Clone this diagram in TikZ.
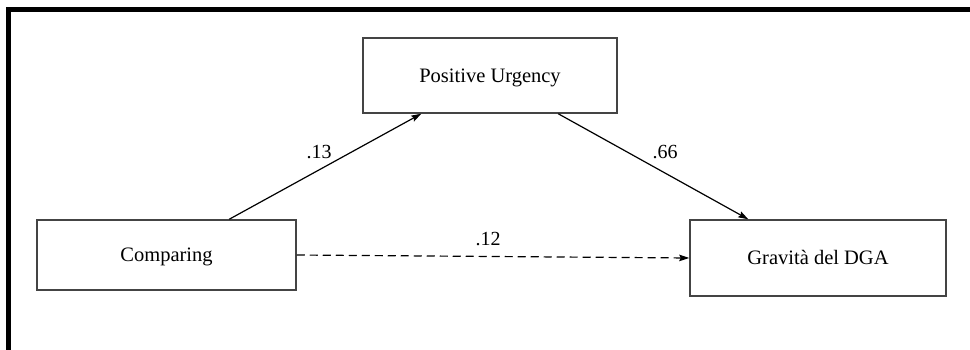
\documentclass[tikz,border=0pt]{standalone}
\usepackage{fontspec}
\setmainfont{Liberation Serif}
\usetikzlibrary{arrows.meta}
\definecolor{boxgray}{HTML}{444444}
\begin{document}
\begin{tikzpicture}[x=1pt,y=-1pt,
  box/.style={draw=boxgray, line width=1.5pt, fill=white, inner sep=0pt,
    text depth=0pt, text height=13.5pt,
    font=\fontsize{20.5}{24}\selectfont, text=black},
  conn/.style={line width=1.2pt, -{Stealth[length=10pt,width=6.5pt,inset=1.5pt]}},
  coef/.style={font=\fontsize{20}{24}\selectfont, inner sep=0pt}]
\useasboundingbox (0,0) rectangle (970,350);
\fill[white] (0,0) rectangle (970,350);
% frame (top and left only)
\draw[line width=4.6pt, black] (8.5,352) -- (8.5,9.3) -- (972,9.3);
% nodes
\node[box, minimum width=254pt, minimum height=75pt] (pu) at (490,75.5) {Positive Urgency};
\node[box, minimum width=259pt, minimum height=70pt] (cmp) at (166.5,255) {Comparing};
\node[box, minimum width=256pt, minimum height=76pt] (gda) at (818,258) {Gravità del DGA};
% connectors
\draw[conn] ([xshift=193pt]cmp.north west) -- ([xshift=59pt]pu.south west);
\draw[conn] ([xshift=196pt]pu.south west) -- ([xshift=59pt]gda.north west);
\draw[conn, dash pattern=on 8pt off 5pt] (cmp.east) -- (gda.west);
% labels
\node[coef] (l13) at (319,152) {.13};
\node[coef] (l66) at (665,152) {.66};
\node[coef] (l12) at (488,239) {.12};
\end{tikzpicture}
\end{document}
